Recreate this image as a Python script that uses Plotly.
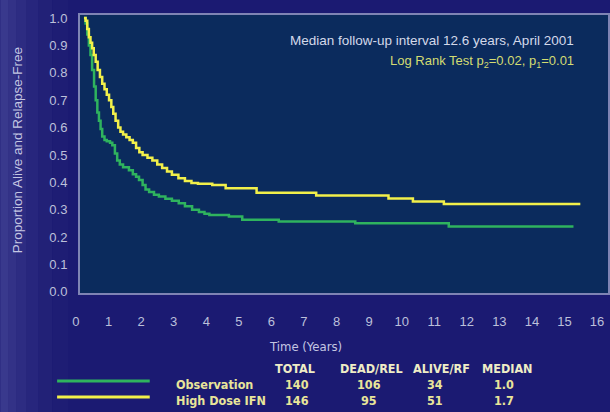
import plotly.graph_objects as go

# ---- Data ----
ifn_t = [0.00, 0.05, 0.10, 0.15, 0.20, 0.25, 0.30, 0.36, 0.42, 0.49, 0.56, 0.63, 0.70, 0.77,
         0.84, 0.90, 0.97, 1.05, 1.12, 1.20, 1.30, 1.40, 1.50, 1.60, 1.70, 1.80, 1.95, 2.10,
         2.25, 2.40, 2.55, 2.70, 2.90, 3.10, 3.30, 3.50, 3.94, 4.35, 5.30, 7.13, 9.35, 10.10,
         11.05, 15.24]
ifn_s = [1.000, 0.990, 0.960, 0.930, 0.910, 0.890, 0.865, 0.840, 0.810, 0.785, 0.760, 0.740,
         0.720, 0.700, 0.675, 0.650, 0.625, 0.600, 0.585, 0.575, 0.565, 0.555, 0.545, 0.525,
         0.510, 0.500, 0.490, 0.480, 0.465, 0.452, 0.440, 0.428, 0.415, 0.405, 0.398, 0.395,
         0.390, 0.378, 0.362, 0.352, 0.341, 0.330, 0.321, 0.321]

obs_t = [0.00, 0.05, 0.10, 0.15, 0.20, 0.25, 0.31, 0.36, 0.41, 0.46, 0.51, 0.56, 0.63, 0.70,
         0.80, 0.87, 0.95, 1.02, 1.10, 1.20, 1.38, 1.50, 1.60, 1.69, 1.80, 1.89, 2.00, 2.15,
         2.30, 2.50, 2.70, 2.91, 3.10, 3.32, 3.53, 3.70, 3.85, 4.45, 4.86, 5.98, 8.33, 11.20,
         15.03]
obs_s = [1.000, 0.980, 0.940, 0.900, 0.865, 0.810, 0.750, 0.700, 0.655, 0.625, 0.595, 0.567,
         0.555, 0.550, 0.545, 0.535, 0.505, 0.480, 0.465, 0.455, 0.444, 0.430, 0.420, 0.409,
         0.390, 0.374, 0.365, 0.355, 0.348, 0.340, 0.333, 0.324, 0.313, 0.300, 0.292, 0.285,
         0.281, 0.275, 0.263, 0.257, 0.251, 0.239, 0.239]

x_ticks = list(range(0, 17))
y_ticks = [0.0, 0.1, 0.2, 0.3, 0.4, 0.5, 0.6, 0.7, 0.8, 0.9, 1.0]
y_ticklabels = ["0.0", "0.1", "0.2", "0.3", "0.4", "0.5", "0.6", "0.7", "0.8", "0.9", "1.0"]

table_headers = ["TOTAL", "DEAD/REL", "ALIVE/RF", "MEDIAN"]
groups = ["Observation", "High Dose IFN"]
totals = [140, 146]
dead_rel = [106, 95]
alive_rf = [34, 51]
medians = ["1.0", "1.7"]

GREEN = "#2fb35e"
YELLOW = "#f2f04a"
PAPER = "#1b1a72"
PLOTBG = "#0b2b5d"
FRAME = "#7f84b4"
TICK = "#bcc0da"
COND = "DejaVu Sans Condensed, Liberation Sans Narrow, Arial Narrow, sans-serif"

fig = go.Figure()
fig.add_trace(go.Scatter(x=obs_t, y=obs_s, mode="lines", line=dict(color=GREEN, width=2.5, shape="hv"),
                         name="Observation", showlegend=False))
fig.add_trace(go.Scatter(x=ifn_t, y=ifn_s, mode="lines", line=dict(color=YELLOW, width=2.5, shape="hv"),
                         name="High Dose IFN", showlegend=False))

W, H = 610, 412
ml, mr, mt, mb = 80, 0, 15, 119

fig.update_layout(
    width=W, height=H,
    margin=dict(l=ml, r=mr, t=mt, b=mb),
    paper_bgcolor=PAPER, plot_bgcolor=PLOTBG,
    font=dict(family="Liberation Sans, Arial, sans-serif", color=TICK, size=13),
    xaxis=dict(range=[-0.122, 16.09], tickvals=x_ticks, showgrid=False, zeroline=False,
               showline=True, linecolor=FRAME, linewidth=2, mirror=True,
               ticks="", ticklabelstandoff=15, ticklabelshift=-8,
               tickfont=dict(size=13, color=TICK)),
    yaxis=dict(range=[-0.004, 1.011], tickvals=y_ticks, ticktext=y_ticklabels, showgrid=False,
               zeroline=False, showline=True, linecolor=FRAME, linewidth=2, mirror=True,
               ticks="", ticklabelstandoff=8, tickfont=dict(size=13, color=TICK)),
)

def px_x(p):
    return (p - ml) / (W - ml - mr)

def px_y(p):
    return (H - mb - p) / (H - mt - mb)

# lighter band along the left edge of the slide
strips = [(0, 8, 0.30), (8, 16, 0.24), (16, 26, 0.18), (26, 38, 0.12), (38, 52, 0.07), (52, 68, 0.03)]
for a, b, op in strips:
    fig.add_shape(type="rect", xref="paper", yref="paper", x0=px_x(a), x1=px_x(b),
                  y0=px_y(H), y1=px_y(0), line=dict(width=0), fillcolor="#8080cc", opacity=op,
                  layer="below")

annos = []
annos.append(dict(x=px_x(578), y=px_y(40), xref="paper", yref="paper", xanchor="right", yanchor="middle",
                  text="Median follow-up interval 12.6 years, April 2001", showarrow=False,
                  font=dict(size=13.5, color="#d4d9ea")))
annos.append(dict(x=px_x(578), y=px_y(62), xref="paper", yref="paper", xanchor="right", yanchor="middle",
                  text="Log Rank Test p<sub>2</sub>=0.02, p<sub>1</sub>=0.01", showarrow=False,
                  font=dict(size=13, color="#d3dc72")))
annos.append(dict(x=px_x(17), y=px_y(150), xref="paper", yref="paper", xanchor="center", yanchor="middle",
                  text="Proportion Alive and Relapse-Free", textangle=-90, showarrow=False,
                  font=dict(size=13.5, color="#c4c6e2")))
annos.append(dict(x=px_x(306), y=px_y(346), xref="paper", yref="paper", xanchor="center", yanchor="middle",
                  text="Time (Years)", showarrow=False,
                  font=dict(family=COND, size=13, color="#c4c6e2")))

col_x = [296, 373, 443, 509]
head_y = 368
row_y = [384, 400]
for cx, h in zip(col_x, table_headers):
    annos.append(dict(x=px_x(cx), y=px_y(head_y), xref="paper", yref="paper", xanchor="center",
                      yanchor="middle", text="<b>%s</b>" % h, showarrow=False,
                      font=dict(family=COND, size=12.5, color="#efedc6")))
val_x = [298, 370, 436, 506]
for i, g in enumerate(groups):
    annos.append(dict(x=px_x(174), y=px_y(row_y[i]), xref="paper", yref="paper", xanchor="left",
                      yanchor="middle", text="<b>%s</b>" % g, showarrow=False,
                      font=dict(family=COND, size=12.5, color="#e9e59a")))
    vals = [str(totals[i]), str(dead_rel[i]), str(alive_rf[i]), medians[i]]
    for vx, v in zip(val_x, vals):
        annos.append(dict(x=px_x(vx), y=px_y(row_y[i]), xref="paper", yref="paper", xanchor="center",
                          yanchor="middle", text="<b>%s</b>" % v, showarrow=False,
                          font=dict(family=COND, size=12.5, color="#e9e59a")))
fig.update_layout(annotations=annos)

# legend swatches
for yy, col in zip([381, 397], [GREEN, YELLOW]):
    fig.add_shape(type="line", xref="paper", yref="paper", x0=px_x(57), x1=px_x(150),
                  y0=px_y(yy), y1=px_y(yy), line=dict(color=col, width=3))

fig.write_html("out.html")
